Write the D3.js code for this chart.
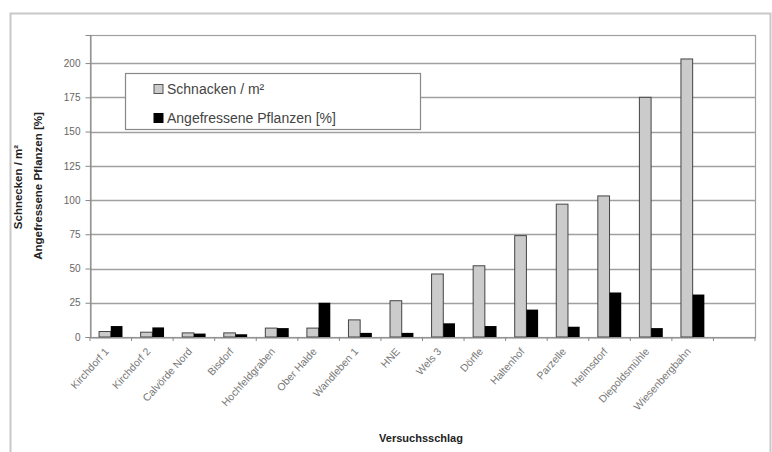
<!DOCTYPE html>
<html>
<head>
<meta charset="utf-8">
<script src="https://cdn.jsdelivr.net/npm/d3@7"></script>
<style>
  html, body { margin: 0; padding: 0; background: #fff; }
  svg { display: block; font-family: "Liberation Sans", Arial, sans-serif; }
</style>
</head>
<body>
<svg id="chart" width="772" height="452"></svg>
<script>
// Field plots (last slot left empty, as in the category axis)
const categories = [
  "Kirchdorf 1", "Kirchdorf 2", "Calvörde Nord", "Bisdorf", "Hochfeldgraben",
  "Ober Halde", "Wandleben 1", "HNE", "Wels 3", "Dörfle",
  "Haltenhof", "Parzelle", "Helmsdorf", "Diepoldsmühle", "Wiesenbergbahn", ""
];
const snailsPerM2 = [4, 3.5, 3, 3, 6.5, 6.5, 12.5, 26.5, 46, 52, 74, 97, 103, 175, 203, null];
const damagedPlants = [8, 7, 2.5, 2, 6.5, 25, 3, 3, 10, 8, 20, 7.5, 32.5, 6.5, 31, null];
const yTicks = [0, 25, 50, 75, 100, 125, 150, 175, 200];
const seriesNames = ["Schnacken / m²", "Angefressene Pflanzen [%]"];

const svg = d3.select("#chart");
const plot = { left: 90, right: 755, top: 35, bottom: 337 };

// outer chart frame
svg.append("path")
  .attr("d", "M10.5,452 V13.5 H770.5 V452")
  .attr("fill", "none").attr("stroke", "#c8c8c8").attr("stroke-width", 2);

const x = d3.scaleBand().domain(d3.range(categories.length))
  .range([plot.left, plot.right]).paddingInner(0).paddingOuter(0);
const y = d3.scaleLinear().domain([0, 220.5]).range([plot.bottom, plot.top]);
const barW = 11.7;

// horizontal grid
svg.append("g").selectAll("line").data(yTicks.slice(1)).join("line")
  .attr("x1", plot.left).attr("x2", plot.right)
  .attr("y1", d => Math.round(y(d)) + 0.5).attr("y2", d => Math.round(y(d)) + 0.5)
  .attr("stroke", "#a0a0a0").attr("stroke-width", 1.5);

// plot frame
svg.append("rect")
  .attr("x", plot.left + 0.5).attr("y", plot.top + 0.5)
  .attr("width", plot.right - plot.left).attr("height", plot.bottom - plot.top)
  .attr("fill", "none").attr("stroke", "#a0a0a0").attr("stroke-width", 1.2);

// y axis
const yAxis = svg.append("g")
  .attr("transform", `translate(${plot.left + 0.5},0)`)
  .call(d3.axisLeft(y).tickValues(yTicks).tickSize(5).tickPadding(5));
yAxis.select(".domain").attr("stroke", "#888");
yAxis.selectAll(".tick line").attr("stroke", "#888");
yAxis.selectAll("text").attr("fill", "#666").attr("font-size", 10)
  .attr("font-family", "Liberation Sans, Arial, sans-serif");

// bars: snails (light grey, outlined) and damaged plants (black)
const groups = svg.append("g").selectAll("g").data(d3.range(categories.length)).join("g")
  .attr("transform", i => `translate(${x(i) + x.bandwidth() / 2 - barW},0)`);

groups.filter(i => snailsPerM2[i] != null).append("rect")
  .attr("x", 0).attr("width", barW)
  .attr("y", i => y(snailsPerM2[i]))
  .attr("height", i => plot.bottom - y(snailsPerM2[i]))
  .attr("fill", "#cbcbcb").attr("stroke", "#444").attr("stroke-width", 1);

groups.filter(i => damagedPlants[i] != null).append("rect")
  .attr("x", barW).attr("width", barW)
  .attr("y", i => y(damagedPlants[i]))
  .attr("height", i => plot.bottom - y(damagedPlants[i]))
  .attr("fill", "#000");

// x axis
const xAxis = svg.append("g")
  .attr("transform", `translate(0,${plot.bottom + 0.5})`)
  .call(d3.axisBottom(x).tickSize(0).tickFormat(i => categories[i]));
xAxis.select(".domain").attr("stroke", "#888").attr("stroke-width", 1.2);
xAxis.selectAll(".tick text")
  .attr("font-size", 10.5).attr("fill", "#777")
  .attr("text-anchor", "end")
  .attr("transform", "translate(-4,12) rotate(-48)")
  .attr("dy", "0.35em").attr("y", 0);
// small category separators below the axis
svg.append("g").selectAll("line").data(d3.range(categories.length + 1)).join("line")
  .attr("x1", i => plot.left + i * x.bandwidth()).attr("x2", i => plot.left + i * x.bandwidth())
  .attr("y1", plot.bottom).attr("y2", plot.bottom + 4)
  .attr("stroke", "#888");

// axis titles
svg.append("text")
  .attr("transform", "translate(22,187) rotate(-90)")
  .attr("text-anchor", "middle").attr("font-size", 11.5).attr("font-weight", "bold")
  .attr("fill", "#222").text("Schnecken / m²");
svg.append("text")
  .attr("transform", "translate(42,186) rotate(-90)")
  .attr("text-anchor", "middle").attr("font-size", 11.5).attr("font-weight", "bold")
  .attr("fill", "#222").text("Angefressene Pflanzen [%]");
svg.append("text")
  .attr("x", 421).attr("y", 442)
  .attr("text-anchor", "middle").attr("font-size", 11).attr("font-weight", "bold")
  .attr("fill", "#222").text("Versuchsschlag");

// legend
const legend = svg.append("g");
legend.append("rect")
  .attr("x", 125.5).attr("y", 73.5).attr("width", 295).attr("height", 56)
  .attr("fill", "#fff").attr("stroke", "#888").attr("stroke-width", 1.2);
const entries = legend.selectAll("g").data(seriesNames).join("g")
  .attr("transform", (d, i) => `translate(154,${89 + i * 29})`);
entries.append("rect")
  .attr("x", 0).attr("y", -4.5).attr("width", 9).attr("height", 9)
  .attr("fill", (d, i) => i === 0 ? "#cbcbcb" : "#000")
  .attr("stroke", (d, i) => i === 0 ? "#555" : "#000");
entries.append("text")
  .attr("x", 13).attr("y", 0).attr("dy", "0.36em")
  .attr("font-size", 14).attr("fill", "#444").text(d => d);
</script>
</body>
</html>
